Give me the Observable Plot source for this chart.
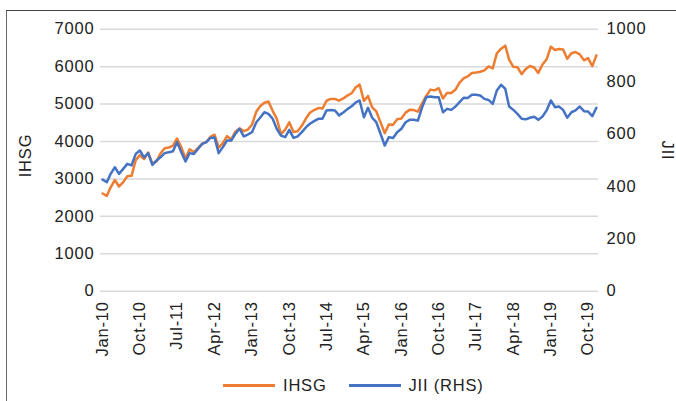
<!DOCTYPE html>
<html>
<head>
<meta charset="utf-8">
<script src="https://cdn.jsdelivr.net/npm/d3@7"></script>
<script src="https://cdn.jsdelivr.net/npm/@observablehq/plot@0.6"></script>
<style>
  html, body { margin: 0; padding: 0; background: #fff; }
  #wrap { position: relative; width: 676px; height: 401px; overflow: hidden; font-family: "Liberation Sans", Arial, sans-serif; color: #222; }
  #frame { position: absolute; left: 6px; top: 10px; width: 720px; height: 420px; border-top: 1px solid #444; border-left: 1px solid #666; box-sizing: border-box; }
  #chart { position: absolute; left: 0; top: 0; }
  #chart svg text { letter-spacing: 0.8px; }
  .ytitle { position: absolute; font-size: 16.5px; letter-spacing: 0.8px; white-space: nowrap; transform-origin: center center; }
  #legend { position: absolute; top: 376px; left: 223px; display: flex; align-items: center; font-size: 16.5px; letter-spacing: 0.8px; white-space: nowrap; }
  .sw { display: inline-block; width: 52px; height: 3px; margin-right: 8px; }
</style>
</head>
<body>
<div id="wrap">
  <div id="frame"></div>
  <div id="chart"></div>
  <div class="ytitle" id="tl">IHSG</div>
  <div class="ytitle" id="tr">JII</div>
  <div id="legend"></div>
</div>
<script>
// Monthly values, Jan-2010 .. Dec-2019
const ihsg = [
  2611, 2549, 2777, 2971, 2797, 2914, 3069, 3082, 3501, 3635, 3531, 3704,
  3409, 3471, 3679, 3820, 3837, 3889, 4080, 3842, 3549, 3791, 3715, 3822,
  3942, 3985, 4122, 4181, 3833, 3956, 4142, 4060, 4263, 4350, 4276, 4317,
  4454, 4796, 4941, 5034, 5069, 4819, 4610, 4195, 4316, 4511, 4256, 4274,
  4419, 4620, 4768, 4840, 4894, 4879, 5089, 5137, 5138, 5090, 5150, 5227,
  5289, 5450, 5519, 5086, 5216, 4911, 4803, 4510, 4224, 4455, 4446, 4593,
  4615, 4771, 4845, 4839, 4797, 5017, 5216, 5386, 5365, 5423, 5149, 5297,
  5294, 5387, 5568, 5685, 5738, 5830, 5841, 5864, 5901, 6006, 5952, 6356,
  6480, 6560, 6189, 5995, 5984, 5799, 5936, 6018, 5977, 5832, 6056, 6195,
  6533, 6443, 6469, 6455, 6209, 6359, 6391, 6328, 6169, 6228, 6012, 6300
];
const jii = [
  426, 416, 448, 473, 448, 467, 486, 480, 524, 537, 511, 527,
  482, 499, 511, 527, 530, 534, 569, 530, 495, 527, 524, 543,
  562, 569, 585, 587, 527, 550, 575, 575, 601, 620, 591, 598,
  607, 645, 662, 683, 677, 658, 620, 594, 588, 616, 585, 591,
  607, 626, 639, 649, 658, 658, 690, 692, 690, 671, 682, 695,
  706, 721, 728, 664, 700, 662, 645, 601, 556, 588, 585, 607,
  620, 645, 654, 654, 651, 702, 740, 743, 740, 740, 683, 696,
  692, 705, 721, 738, 737, 750, 750, 747, 734, 730, 715, 766,
  788, 772, 705, 692, 677, 658, 656, 662, 666, 654, 667, 690,
  728, 702, 705, 692, 662, 683, 690, 705, 687, 686, 668, 700
];
const tickLabels = ["Jan-10","Oct-10","Jul-11","Apr-12","Jan-13","Oct-13","Jul-14","Apr-15","Jan-16","Oct-16","Jul-17","Apr-18","Jan-19","Oct-19"];
const ihsgTicks = [0, 1000, 2000, 3000, 4000, 5000, 6000, 7000];
const jiiTicks = [0, 200, 400, 600, 800, 1000];
const seriesNames = ["IHSG", "JII (RHS)"];
const colors = ["#ED7D31", "#4472C4"];

const months = d3.utcMonth.range(new Date(Date.UTC(2010, 0, 1)), new Date(Date.UTC(2020, 0, 1)));
const data = months.map((m, i) => ({date: m, ihsg: ihsg[i], jii: jii[i]}));
const parse = d3.utcParse("%b-%y");
const tickDates = tickLabels.map(parse);
const labelByTime = new Map(tickDates.map((d, i) => [+d, tickLabels[i]]));
const ratio = 7000 / 1000;

const chart = Plot.plot({
  width: 676,
  height: 370,
  marginLeft: 100,
  marginRight: 78,
  marginTop: 28.7,
  marginBottom: 79.3,
  style: {fontFamily: "'Liberation Sans', Arial, sans-serif", fontSize: "16.5px", color: "#222", background: "transparent", overflow: "visible"},
  x: {type: "utc", domain: [new Date(Date.UTC(2009, 11, 16, 12)), new Date(Date.UTC(2019, 11, 16, 12))]},
  y: {domain: [0, 7000]},
  marks: [
    Plot.gridY(ihsgTicks, {stroke: "#d9d9d9", strokeOpacity: 1, strokeWidth: 1.5}),
    Plot.axisY(ihsgTicks, {anchor: "left", tickSize: 0, tickPadding: 6, label: null, tickFormat: d => String(d)}),
    Plot.axisY(jiiTicks.map(v => v * ratio), {anchor: "right", tickSize: 0, tickPadding: 8, label: null, tickFormat: d => String(Math.round(d / ratio))}),
    Plot.axisX(tickDates, {anchor: "bottom", tickSize: 0, tickPadding: 10, tickRotate: -90, label: null, tickFormat: d => labelByTime.get(+d)}),
    Plot.lineY(data, {x: "date", y: "ihsg", stroke: colors[0], strokeWidth: 2.5}),
    Plot.lineY(data, {x: "date", y: d => d.jii * ratio, stroke: colors[1], strokeWidth: 2.5})
  ]
});
document.getElementById("chart").appendChild(chart);

// axis titles
function place(el, cx, cy, rot) {
  const r = el.getBoundingClientRect();
  el.style.left = (cx - r.width / 2) + "px";
  el.style.top = (cy - r.height / 2) + "px";
  el.style.transform = `rotate(${rot}deg)`;
}
place(document.getElementById("tl"), 26, 155, -90);
place(document.getElementById("tr"), 668, 150, 90);

// legend
const lg = document.getElementById("legend");
seriesNames.forEach((name, i) => {
  const item = document.createElement("span");
  item.style.display = "inline-flex";
  item.style.alignItems = "center";
  item.style.marginRight = i === 0 ? "22px" : "0";
  item.innerHTML = `<span class="sw" style="background:${colors[i]}"></span><span>${name}</span>`;
  lg.appendChild(item);
});
</script>
</body>
</html>
